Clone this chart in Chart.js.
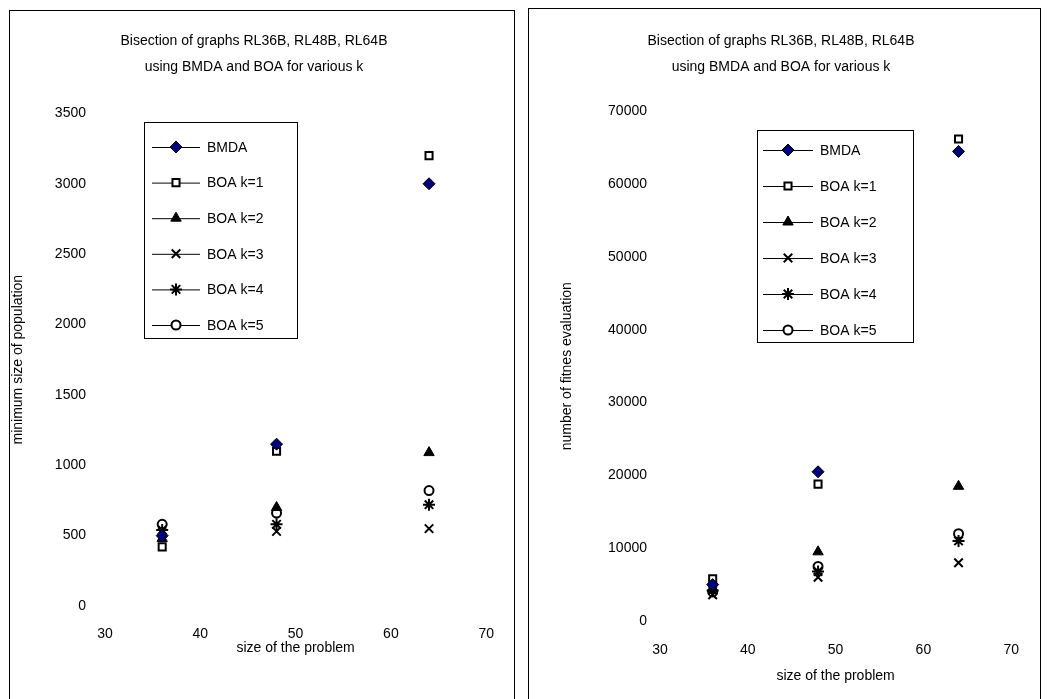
<!DOCTYPE html>
<html>
<head>
<meta charset="utf-8">
<script src="https://cdn.jsdelivr.net/npm/chart.js@4/dist/chart.umd.min.js"></script>
<style>
  body { margin: 0; background: #fff; width: 1047px; height: 699px; overflow: hidden; position: relative; }
  .panel { position: absolute; border: 1px solid #000; border-bottom: none; background: #fff; }
  canvas { display: block; }
</style>
</head>
<body>
<div class="panel" style="left:9px; top:10px; width:504px; height:700px;">
  <canvas id="popChart" width="504" height="688"></canvas>
</div>
<div class="panel" style="left:528px; top:8px; width:511px; height:700px;">
  <canvas id="evalChart" width="511" height="690"></canvas>
</div>
<script>
// problem sizes (RL36B, RL48B, RL64B)
const sizes = [36, 48, 64];
const seriesNames = ["BMDA", "BOA k=1", "BOA k=2", "BOA k=3", "BOA k=4", "BOA k=5"];

// minimum size of population
const popBMDA = [500, 1150, 3000];
const popBOA1 = [420, 1100, 3200];
const popBOA2 = [480, 700, 1090];
const popBOA3 = [520, 530, 550];
const popBOA4 = [540, 580, 720];
const popBOA5 = [580, 660, 820];

// number of fitness evaluations
const evalBMDA = [5000, 20500, 64500];
const evalBOA1 = [5800, 18800, 66200];
const evalBOA2 = [4500, 9500, 18500];
const evalBOA3 = [3600, 6000, 8000];
const evalBOA4 = [4200, 6800, 11000];
const evalBOA5 = [4000, 7500, 12000];

const popTicks = [0, 500, 1000, 1500, 2000, 2500, 3000, 3500];
const evalTicks = [0, 10000, 20000, 30000, 40000, 50000, 60000, 70000];

const FONT = "'Liberation Sans', Arial, sans-serif";

const markers = [
  { pointStyle: "rectRot", radius: 6, bg: "#000080", border: "#000", bw: 1 },
  { pointStyle: "rect", radius: 5, bg: "#fff", border: "#000", bw: 2 },
  { pointStyle: "triangle", radius: 6, bg: "#000", border: "#000", bw: 1 },
  { pointStyle: "crossRot", radius: 6, bg: "#000", border: "#000", bw: 2 },
  { pointStyle: "star", radius: 6, bg: "#000", border: "#000", bw: 2 },
  { pointStyle: "circle", radius: 4.5, bg: "#fff", border: "#000", bw: 2 }
];

function makeDatasets(lists) {
  return lists.map((vals, i) => ({
    label: seriesNames[i],
    data: sizes.map((s, j) => ({ x: s, y: vals[j] })),
    showLine: false,
    pointStyle: markers[i].pointStyle,
    pointRadius: markers[i].radius,
    pointHoverRadius: markers[i].radius,
    backgroundColor: markers[i].bg,
    borderColor: markers[i].border,
    pointBorderWidth: markers[i].bw
  }));
}

// boxed legend with line-marker-line samples
const boxLegend = {
  id: "boxLegend",
  afterDraw(chart, args, opts) {
    const ctx = chart.ctx;
    ctx.save();
    ctx.strokeStyle = "#000";
    ctx.lineWidth = 1;
    ctx.fillStyle = "#fff";
    ctx.fillRect(opts.x, opts.y, opts.w, opts.h);
    ctx.strokeRect(opts.x + 0.5, opts.y + 0.5, opts.w, opts.h);
    chart.data.datasets.forEach((ds, i) => {
      const y = opts.firstRow + i * opts.gap;
      ctx.strokeStyle = "#000";
      ctx.lineWidth = 1;
      ctx.beginPath();
      ctx.moveTo(opts.lineX0, y + 0.5);
      ctx.lineTo(opts.lineX1, y + 0.5);
      ctx.stroke();
      ctx.fillStyle = ds.backgroundColor;
      ctx.strokeStyle = ds.borderColor;
      ctx.lineWidth = ds.pointBorderWidth;
      Chart.helpers.drawPoint(ctx, { pointStyle: ds.pointStyle, radius: ds.pointRadius, rotation: 0, borderWidth: ds.pointBorderWidth },
        (opts.lineX0 + opts.lineX1) / 2, y);
      ctx.fillStyle = "#000";
      ctx.font = "14px " + FONT;
      ctx.textBaseline = "middle";
      ctx.textAlign = "left";
      ctx.fillText(ds.label, opts.textX, y + 1);
    });
    ctx.restore();
  }
};

function makeChart(id, lists, ticks, yTitle, lay) {
  new Chart(document.getElementById(id), {
    type: "scatter",
    data: { datasets: makeDatasets(lists) },
    plugins: [boxLegend],
    options: {
      responsive: false,
      animation: false,
      layout: { padding: { left: 0, right: lay.padRight, top: 0, bottom: 0 } },
      plugins: {
        legend: { display: false },
        tooltip: { enabled: false },
        title: {
          display: true,
          text: ["Bisection of graphs RL36B, RL48B, RL64B", "using BMDA and BOA for various k"],
          color: "#000",
          font: { family: FONT, size: 14, weight: "normal", lineHeight: 1.8 },
          padding: { top: lay.titleTop, bottom: lay.titleBottom }
        },
        boxLegend: lay.legend
      },
      scales: {
        x: {
          type: "linear",
          min: 30,
          max: 70,
          grid: { display: false, drawTicks: false },
          border: { display: false },
          ticks: { stepSize: 10, color: "#000", padding: lay.xTickPad, font: { family: FONT, size: 14 },
            callback: v => String(v) },
          title: { display: true, text: "size of the problem", color: "#000",
            font: { family: FONT, size: 14 }, padding: { top: 0, bottom: lay.xTitlePad } },
          afterFit(scale) { scale.height = lay.xHeight; }
        },
        y: {
          type: "linear",
          min: ticks[0],
          max: ticks[ticks.length - 1],
          afterBuildTicks(scale) { scale.ticks = ticks.map(v => ({ value: v })); },
          grid: { display: false, drawTicks: false },
          border: { display: false },
          ticks: { color: "#000", padding: lay.yTickPad, font: { family: FONT, size: 14 },
            callback: v => String(v) },
          title: { display: true, text: yTitle, color: "#000",
            font: { family: FONT, size: 14 }, padding: { top: lay.yTitlePad, bottom: 0 } },
          afterFit(scale) { scale.width = lay.yWidth; }
        }
      }
    }
  });
}

makeChart("popChart",
  [popBMDA, popBOA1, popBOA2, popBOA3, popBOA4, popBOA5],
  popTicks, "minimum size of population",
  {
    padRight: 16, titleTop: 18, titleBottom: 34,
    xHeight: 93, xTickPad: 20, xTitlePad: 42,
    yWidth: 95, yTickPad: 19, yTitlePad: 0,
    legend: { x: 134, y: 111, w: 153, h: 216, firstRow: 136, gap: 35.6, lineX0: 142, lineX1: 190, textX: 197 }
  });

makeChart("evalChart",
  [evalBMDA, evalBOA1, evalBOA2, evalBOA3, evalBOA4, evalBOA5],
  evalTicks, "number of fitnes evaluation",
  {
    padRight: 7, titleTop: 20, titleBottom: 32,
    xHeight: 78, xTickPad: 21, xTitlePad: 14,
    yWidth: 131, yTickPad: 13, yTitlePad: 30,
    legend: { x: 228, y: 121, w: 156, h: 212, firstRow: 141, gap: 36, lineX0: 234, lineX1: 284, textX: 291 }
  });
</script>
</body>
</html>
